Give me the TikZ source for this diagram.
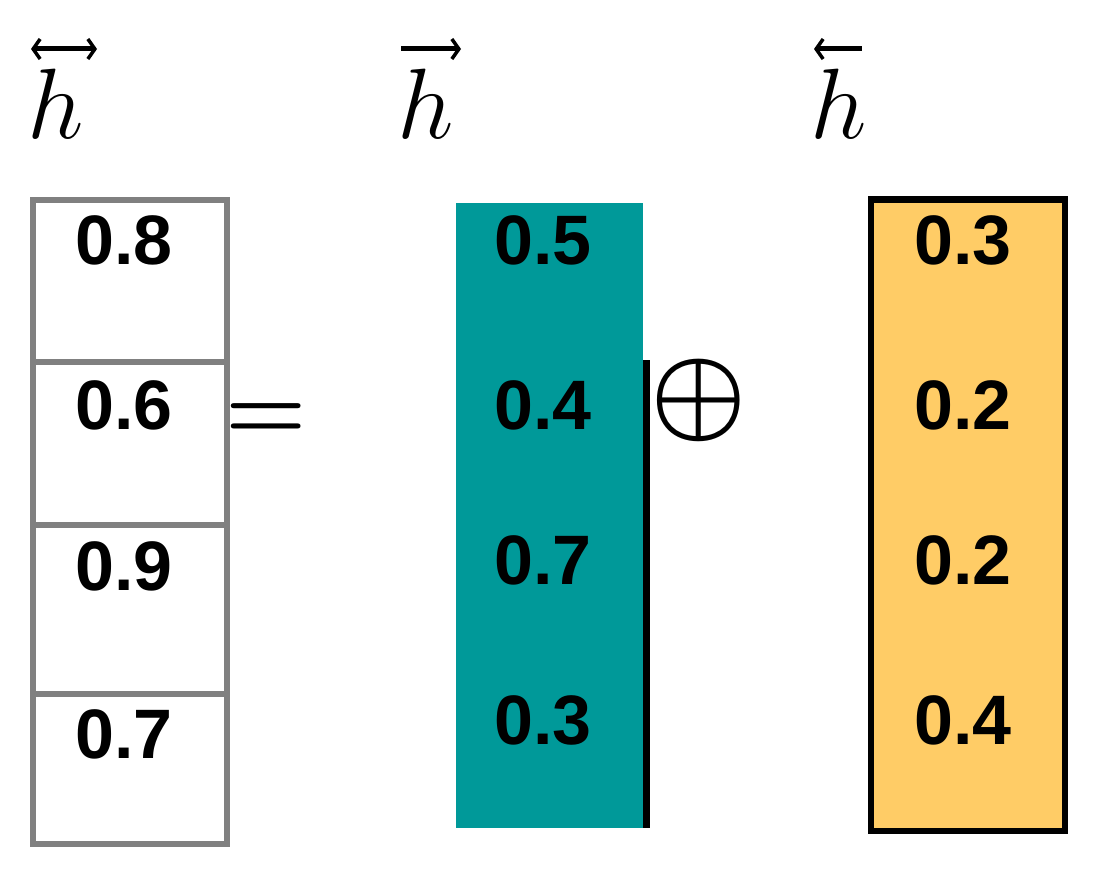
\RequirePackage{fix-cm}
\documentclass[tikz,border=0pt]{standalone}
\usepackage{amsmath}
\usepackage{fontspec}
\usetikzlibrary{arrows.meta}
\newfontfamily\numfont{Liberation Sans}
\definecolor{cellgray}{RGB}{128,128,128}
\definecolor{tealfill}{RGB}{0,153,153}
\definecolor{orangefill}{RGB}{255,204,102}
\begin{document}
\begin{tikzpicture}[x=1pt,y=-1pt,
  num/.style={font=\numfont\bfseries\fontsize{70}{70}\selectfont, inner sep=0pt},
  lab/.style={inner sep=0pt, anchor=base west, font=\fontsize{100}{100}\selectfont},
  arrowline/.style={line width=5pt},
  barb/.tip={Straight Barb[length=7pt,width=20pt,line width=3.5pt]},
  grayline/.style={draw=cellgray, line width=6pt},
  sym/.style={inner sep=0pt, anchor=base west}]
\useasboundingbox (0,0) rectangle (1115,880);
% labels
\node[lab] (hbi) at (27,138) {$h$};
\node[lab] (hfw) at (397,138) {$h$};
\node[lab] (hbw) at (810,138) {$h$};
\coordinate (a1s) at (31,49);
\coordinate (a1e) at (97,49);
\coordinate (a2s) at (401,49);
\coordinate (a2e) at (461,49);
\coordinate (a3s) at (814,49);
\coordinate (a3e) at (862,49);
\draw[arrowline, barb-barb] (a1s) -- (a1e);
\draw[arrowline, -barb] (a2s) -- (a2e);
\draw[arrowline, barb-] (a3s) -- (a3e);
% left column
\draw[grayline] (33,200) rectangle (227,844);
\draw[grayline] (33,362) -- (227,362);
\draw[grayline] (33,525) -- (227,525);
\draw[grayline] (33,694) -- (227,694);
\node[num] (l1) at (124,240) {0.8};
\node[num] (l2) at (124,405) {0.6};
\node[num] (l3) at (124,566) {0.9};
\node[num] (l4) at (124,734) {0.7};
% equals
\node[sym, font=\fontsize{93}{93}\selectfont] (eq) at (225,439) {$\boldsymbol{=}$};
% middle column
\fill[tealfill] (456,203) rectangle (643,828);
\draw[line width=7pt] (646.5,360) -- (646.5,828);
\node[num] (m1) at (543,240) {0.5};
\node[num] (m2) at (543,405) {0.4};
\node[num] (m3) at (543,560) {0.7};
\node[num] (m4) at (543,720) {0.3};
% oplus
\node[sym, font=\fontsize{108}{108}\selectfont] (op) at (650,427) {$\boldsymbol{\oplus}$};
% right column
\draw[fill=orangefill, line width=6.5pt] (871,199.5) rectangle (1065,831);
\node[num] (r1) at (963,240) {0.3};
\node[num] (r2) at (963,405) {0.2};
\node[num] (r3) at (963,560) {0.2};
\node[num] (r4) at (963,720) {0.4};
\end{tikzpicture}
\end{document}
